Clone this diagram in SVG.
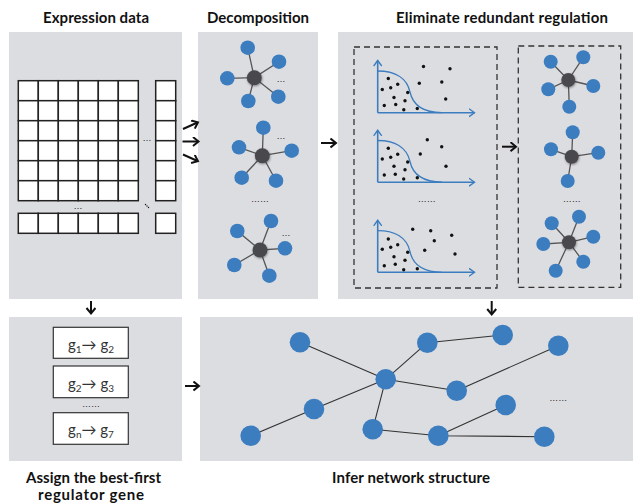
<svg xmlns="http://www.w3.org/2000/svg" width="633" height="504" viewBox="0 0 633 504">
<style>
.panel{fill:#dcdde0}
.title{font-family:Lato,"Liberation Sans",sans-serif;font-weight:bold;font-size:15px;fill:#111;text-anchor:middle}
.cell{fill:#fff;stroke:#222;stroke-width:1.5}
.dots{font-family:"Liberation Sans",sans-serif;font-size:9px;fill:#222;text-anchor:middle}
.leaf{fill:#3c7dc0}
.hub{fill:#48494d;filter:url(#sh)}
.spoke{stroke:#555;stroke-width:1.3}
.dash{fill:none;stroke:#333;stroke-width:1.3;stroke-dasharray:6,4}
.axis{stroke:#3c7dc0;stroke-width:1.6;fill:none;marker-end:url(#ax)}
.curve{stroke:#3c7dc0;stroke-width:1.3;fill:none}
.pt{fill:#111}
.flow{stroke:#111;stroke-width:2;fill:none;marker-end:url(#ah)}
.box{fill:#fff;stroke:#333;stroke-width:1.2}
.gtext{font-family:Lato,"Liberation Sans",sans-serif;font-size:15px;fill:#333;text-anchor:middle}
.edge{stroke:#333;stroke-width:1.1}
.node{fill:#3c7dc0}
</style>
<defs>
<marker id="ah" markerUnits="userSpaceOnUse" markerWidth="10" markerHeight="12" refX="6" refY="5" orient="auto">
<path d="M1,0.5 L6.5,5 L1,9.5" fill="none" stroke="#111" stroke-width="2"/>
</marker>
<marker id="ax" markerUnits="userSpaceOnUse" markerWidth="10" markerHeight="12" refX="6" refY="5" orient="auto">
<path d="M0.5,1 L6,5 L0.5,9" fill="none" stroke="#3c7dc0" stroke-width="1.4"/>
</marker>
<filter id="sh" x="-50%" y="-50%" width="200%" height="200%">
<feDropShadow dx="0.5" dy="1" stdDeviation="1" flood-color="#000" flood-opacity="0.4"/>
</filter>
</defs>

<g id="titles">
<text class="title" x="96" y="23" textLength="106">Expression data</text>
<text class="title" x="258" y="23" textLength="102">Decomposition</text>
<text class="title" x="502" y="23" textLength="212">Eliminate redundant regulation</text>
<text class="title" x="93.5" y="483" textLength="135">Assign the best-first</text>
<text class="title" x="91" y="500" textLength="106">regulator gene</text>
<text class="title" x="411" y="483" textLength="158">Infer network structure</text>
</g>

<g id="expression-data">
<rect class="panel" x="9" y="32" width="173" height="267"/>
<g id="matrix">
<rect class="cell" x="18.3" y="80.7" width="20" height="20"/><rect class="cell" x="38.3" y="80.7" width="20" height="20"/><rect class="cell" x="58.3" y="80.7" width="20" height="20"/><rect class="cell" x="78.3" y="80.7" width="20" height="20"/><rect class="cell" x="98.3" y="80.7" width="20" height="20"/><rect class="cell" x="118.3" y="80.7" width="20" height="20"/>
<rect class="cell" x="18.3" y="100.7" width="20" height="20"/><rect class="cell" x="38.3" y="100.7" width="20" height="20"/><rect class="cell" x="58.3" y="100.7" width="20" height="20"/><rect class="cell" x="78.3" y="100.7" width="20" height="20"/><rect class="cell" x="98.3" y="100.7" width="20" height="20"/><rect class="cell" x="118.3" y="100.7" width="20" height="20"/>
<rect class="cell" x="18.3" y="120.7" width="20" height="20"/><rect class="cell" x="38.3" y="120.7" width="20" height="20"/><rect class="cell" x="58.3" y="120.7" width="20" height="20"/><rect class="cell" x="78.3" y="120.7" width="20" height="20"/><rect class="cell" x="98.3" y="120.7" width="20" height="20"/><rect class="cell" x="118.3" y="120.7" width="20" height="20"/>
<rect class="cell" x="18.3" y="140.7" width="20" height="20"/><rect class="cell" x="38.3" y="140.7" width="20" height="20"/><rect class="cell" x="58.3" y="140.7" width="20" height="20"/><rect class="cell" x="78.3" y="140.7" width="20" height="20"/><rect class="cell" x="98.3" y="140.7" width="20" height="20"/><rect class="cell" x="118.3" y="140.7" width="20" height="20"/>
<rect class="cell" x="18.3" y="160.7" width="20" height="20"/><rect class="cell" x="38.3" y="160.7" width="20" height="20"/><rect class="cell" x="58.3" y="160.7" width="20" height="20"/><rect class="cell" x="78.3" y="160.7" width="20" height="20"/><rect class="cell" x="98.3" y="160.7" width="20" height="20"/><rect class="cell" x="118.3" y="160.7" width="20" height="20"/>
<rect class="cell" x="18.3" y="180.7" width="20" height="20"/><rect class="cell" x="38.3" y="180.7" width="20" height="20"/><rect class="cell" x="58.3" y="180.7" width="20" height="20"/><rect class="cell" x="78.3" y="180.7" width="20" height="20"/><rect class="cell" x="98.3" y="180.7" width="20" height="20"/><rect class="cell" x="118.3" y="180.7" width="20" height="20"/>
<rect class="cell" x="155.7" y="80.7" width="20" height="20"/><rect class="cell" x="155.7" y="100.7" width="20" height="20"/><rect class="cell" x="155.7" y="120.7" width="20" height="20"/><rect class="cell" x="155.7" y="140.7" width="20" height="20"/><rect class="cell" x="155.7" y="160.7" width="20" height="20"/><rect class="cell" x="155.7" y="180.7" width="20" height="20"/>
<rect class="cell" x="18.3" y="213.3" width="20" height="20"/><rect class="cell" x="38.3" y="213.3" width="20" height="20"/><rect class="cell" x="58.3" y="213.3" width="20" height="20"/><rect class="cell" x="78.3" y="213.3" width="20" height="20"/><rect class="cell" x="98.3" y="213.3" width="20" height="20"/><rect class="cell" x="118.3" y="213.3" width="20" height="20"/>
<rect class="cell" x="155.7" y="213.3" width="20" height="20"/>
<text class="dots" x="147" y="141">…</text>
<text class="dots" x="78" y="209">…</text>
<circle class="pt" cx="145.5" cy="204.5" r="0.7"/><circle class="pt" cx="147" cy="206" r="0.7"/><circle class="pt" cx="148.5" cy="207.5" r="0.7"/>
</g>
</g>

<g id="decomposition">
<rect class="panel" x="198" y="32" width="120" height="267"/>
<g id="star-d1">
<path class="spoke" d="M254.3,77.7L247.7,47.7M254.3,77.7L279,61.7M254.3,77.7L227.3,78.3M254.3,77.7L248.3,101M254.3,77.7L278.3,96.7"/>
<circle class="leaf" cx="247.7" cy="47.7" r="7.3"/><circle class="leaf" cx="279" cy="61.7" r="7.3"/><circle class="leaf" cx="227.3" cy="78.3" r="7.3"/><circle class="leaf" cx="248.3" cy="101" r="7.3"/><circle class="leaf" cx="278.3" cy="96.7" r="7.3"/>
<circle class="hub" cx="254.3" cy="77.7" r="7.5"/>
<text class="dots" x="281" y="82">…</text>
</g>
<g id="star-d2">
<path class="spoke" d="M262.3,155.7L263.3,127.7M262.3,155.7L291.7,150.7M262.3,155.7L239,147.3M262.3,155.7L241.7,177.7M262.3,155.7L276,180.7"/>
<circle class="leaf" cx="263.3" cy="127.7" r="7.3"/><circle class="leaf" cx="291.7" cy="150.7" r="7.3"/><circle class="leaf" cx="239" cy="147.3" r="7.3"/><circle class="leaf" cx="241.7" cy="177.7" r="7.3"/><circle class="leaf" cx="276" cy="180.7" r="7.3"/>
<circle class="hub" cx="262.3" cy="155.7" r="7.5"/>
<text class="dots" x="281" y="139">…</text>
</g>
<text class="dots" x="260" y="202">……</text>
<g id="star-d3">
<path class="spoke" d="M260,250L271,221M260,250L237.3,231M260,250L285,248.3M260,250L234.3,265M260,250L269.3,275.7"/>
<circle class="leaf" cx="271" cy="221" r="7.3"/><circle class="leaf" cx="237.3" cy="231" r="7.3"/><circle class="leaf" cx="285" cy="248.3" r="7.3"/><circle class="leaf" cx="234.3" cy="265" r="7.3"/><circle class="leaf" cx="269.3" cy="275.7" r="7.3"/>
<circle class="hub" cx="260" cy="250" r="7.5"/>
<text class="dots" x="286" y="235.5">…</text>
</g>
</g>

<g id="eliminate">
<rect class="panel" x="338" y="32" width="295" height="267"/>
<rect class="dash" x="354" y="47" width="143" height="241"/>
<rect class="dash" x="518.3" y="46" width="102.4" height="241.3"/>
<g id="plot1">
<path class="axis" d="M377.7,112.7V60.5"/><path class="axis" d="M377.7,112.7H474.5"/>
<path class="curve" d="M377.7,71 C395,71 407,78 410,92 C413,106 425,112.5 442,112.7"/>
<circle class="pt" cx="388.3" cy="78.5" r="1.7"/><circle class="pt" cx="397.7" cy="84.3" r="1.7"/><circle class="pt" cx="382.3" cy="89.5" r="1.7"/><circle class="pt" cx="390.7" cy="87.8" r="1.7"/><circle class="pt" cx="407.7" cy="92.5" r="1.7"/><circle class="pt" cx="394" cy="97.5" r="1.7"/><circle class="pt" cx="405" cy="100.7" r="1.7"/><circle class="pt" cx="384.3" cy="105.5" r="1.7"/><circle class="pt" cx="395.7" cy="104.5" r="1.7"/><circle class="pt" cx="403.8" cy="109.7" r="1.7"/><circle class="pt" cx="417.3" cy="108.5" r="1.7"/>
<circle class="pt" cx="419.3" cy="83.2" r="1.7"/><circle class="pt" cx="423.5" cy="66.5" r="1.7"/><circle class="pt" cx="450" cy="68.7" r="1.7"/><circle class="pt" cx="441.8" cy="82" r="1.7"/><circle class="pt" cx="445.7" cy="99" r="1.7"/>
</g>
<g id="plot2">
<path class="axis" d="M377.7,182.2V130.3"/><path class="axis" d="M377.7,182.2H474.5"/>
<path class="curve" d="M377.7,140.5 C395,140.5 407,147.5 410,161.5 C413,175.5 425,182 442,182.2"/>
<circle class="pt" cx="388.3" cy="148.3" r="1.7"/><circle class="pt" cx="397.7" cy="154.3" r="1.7"/><circle class="pt" cx="382.3" cy="159" r="1.7"/><circle class="pt" cx="390.7" cy="157.3" r="1.7"/><circle class="pt" cx="407.7" cy="162" r="1.7"/><circle class="pt" cx="394" cy="166.3" r="1.7"/><circle class="pt" cx="405" cy="169.7" r="1.7"/><circle class="pt" cx="384.3" cy="175" r="1.7"/><circle class="pt" cx="395.3" cy="174.3" r="1.7"/><circle class="pt" cx="403.7" cy="179" r="1.7"/><circle class="pt" cx="417.3" cy="177.7" r="1.7"/>
<circle class="pt" cx="420.3" cy="154" r="1.7"/><circle class="pt" cx="427.3" cy="139.7" r="1.7"/><circle class="pt" cx="441.7" cy="146.7" r="1.7"/><circle class="pt" cx="446" cy="166.3" r="1.7"/>
</g>
<text class="dots" x="426.7" y="202">……</text>
<g id="plot3">
<path class="axis" d="M377.7,272.3V220.3"/><path class="axis" d="M377.7,272.3H474.5"/>
<path class="curve" d="M377.7,230.6 C395,230.6 407,237.6 410,251.6 C413,265.6 425,272.1 442,272.3"/>
<circle class="pt" cx="388.3" cy="239" r="1.7"/><circle class="pt" cx="382.3" cy="249.3" r="1.7"/><circle class="pt" cx="390.7" cy="247.3" r="1.7"/><circle class="pt" cx="397.7" cy="244.7" r="1.7"/><circle class="pt" cx="407.7" cy="252.3" r="1.7"/><circle class="pt" cx="394" cy="256.7" r="1.7"/><circle class="pt" cx="405" cy="260.3" r="1.7"/><circle class="pt" cx="384.3" cy="265.7" r="1.7"/><circle class="pt" cx="395.3" cy="264.3" r="1.7"/><circle class="pt" cx="403.7" cy="269.7" r="1.7"/><circle class="pt" cx="417.3" cy="268.7" r="1.7"/>
<circle class="pt" cx="412.7" cy="229.3" r="1.7"/><circle class="pt" cx="430.7" cy="230.7" r="1.7"/><circle class="pt" cx="434.3" cy="240.7" r="1.7"/><circle class="pt" cx="424.7" cy="250.3" r="1.7"/><circle class="pt" cx="451.7" cy="235.3" r="1.7"/><circle class="pt" cx="455" cy="254" r="1.7"/>
</g>
<g id="star-e1">
<path class="spoke" d="M568.3,80L550.7,61.7M568.3,80L583.3,57.3M568.3,80L548.3,89.3M568.3,80L593.3,86M568.3,80L569.3,106.7"/>
<circle class="leaf" cx="550.7" cy="61.7" r="7"/><circle class="leaf" cx="583.3" cy="57.3" r="7"/><circle class="leaf" cx="548.3" cy="89.3" r="7"/><circle class="leaf" cx="593.3" cy="86" r="7"/><circle class="leaf" cx="569.3" cy="106.7" r="7"/>
<circle class="hub" cx="568.3" cy="80" r="7"/>
</g>
<g id="star-e2">
<path class="spoke" d="M571.7,156.7L572.7,132.3M571.7,156.7L551,149.3M571.7,156.7L598.3,152.7M571.7,156.7L567.7,181"/>
<circle class="leaf" cx="572.7" cy="132.3" r="7"/><circle class="leaf" cx="551" cy="149.3" r="7"/><circle class="leaf" cx="598.3" cy="152.7" r="7"/><circle class="leaf" cx="567.7" cy="181" r="7"/>
<circle class="hub" cx="571.7" cy="156.7" r="7"/>
</g>
<text class="dots" x="571.7" y="202">……</text>
<g id="star-e3">
<path class="spoke" d="M569,242.3L551.7,223.3M569,242.3L579,216.7M569,242.3L543.3,244M569,242.3L593.3,236.7M569,242.3L583.3,261.7M569,242.3L555.7,270.7"/>
<circle class="leaf" cx="551.7" cy="223.3" r="7"/><circle class="leaf" cx="579" cy="216.7" r="7"/><circle class="leaf" cx="543.3" cy="244" r="7"/><circle class="leaf" cx="593.3" cy="236.7" r="7"/><circle class="leaf" cx="583.3" cy="261.7" r="7"/><circle class="leaf" cx="555.7" cy="270.7" r="7"/>
<circle class="hub" cx="569" cy="242.3" r="7"/>
</g>
</g>

<g id="assign">
<rect class="panel" x="9" y="317" width="173" height="144"/>
<rect class="box" x="53.3" y="327.3" width="75" height="31"/>
<text class="gtext" x="91" y="350">g<tspan font-size="10" dy="3">1</tspan><tspan dy="-3">→ g</tspan><tspan font-size="10" dy="3">2</tspan></text>
<rect class="box" x="53.3" y="366" width="75" height="31.7"/>
<text class="gtext" x="91" y="389">g<tspan font-size="10" dy="3">2</tspan><tspan dy="-3">→ g</tspan><tspan font-size="10" dy="3">3</tspan></text>
<text class="dots" x="91" y="407">……</text>
<rect class="box" x="53.3" y="412.7" width="75" height="31.6"/>
<text class="gtext" x="91" y="435">g<tspan font-size="10" dy="3">n</tspan><tspan dy="-3">→ g</tspan><tspan font-size="10" dy="3">7</tspan></text>
</g>

<g id="network">
<rect class="panel" x="200" y="317" width="433" height="144"/>
<g id="net-edges">
<path class="edge" d="M300,342.3L385.7,379.3M385.7,379.3L427.3,342.7M427.3,342.7L502.7,335M385.7,379.3L456.7,390.7M456.7,390.7L558.3,345.7M385.7,379.3L314,409M314,409L250.7,435.7M385.7,379.3L372.7,429.3M372.7,429.3L438.3,435.7M438.3,435.7L505.7,405M438.3,435.7L544.3,436.7"/>
</g>
<g id="net-n1"><circle class="node" cx="300" cy="342.3" r="10.3"/></g>
<g id="net-n2"><circle class="node" cx="427.3" cy="342.7" r="10.3"/></g>
<g id="net-n3"><circle class="node" cx="502.7" cy="335" r="10.3"/></g>
<g id="net-n4"><circle class="node" cx="558.3" cy="345.7" r="10.3"/></g>
<g id="net-n5"><circle class="node" cx="385.7" cy="379.3" r="10.3"/></g>
<g id="net-n6"><circle class="node" cx="456.7" cy="390.7" r="10.3"/></g>
<g id="net-n7"><circle class="node" cx="314" cy="409" r="10.3"/></g>
<g id="net-n8"><circle class="node" cx="505.7" cy="405" r="10.3"/></g>
<g id="net-n9"><circle class="node" cx="250.7" cy="435.7" r="10.3"/></g>
<g id="net-n10"><circle class="node" cx="372.7" cy="429.3" r="10.3"/></g>
<g id="net-n11"><circle class="node" cx="438.3" cy="435.7" r="10.3"/></g>
<g id="net-n12"><circle class="node" cx="544.3" cy="436.7" r="10.3"/></g>
<text class="dots" x="558.3" y="401">……</text>
</g>

<g id="connectors">
<path class="flow" d="M183,129 L197.5,122.5"/>
<path class="flow" d="M182.5,141.5 H198"/>
<path class="flow" d="M183,154.5 L197.5,161"/>
<path class="flow" d="M321,143 H335.5"/>
<path class="flow" d="M502,146.7 H515.5"/>
<path class="flow" d="M91,301 V313"/>
<path class="flow" d="M491.7,301 V314"/>
<path class="flow" d="M185,386 H198.5"/>
</g>
</svg>
